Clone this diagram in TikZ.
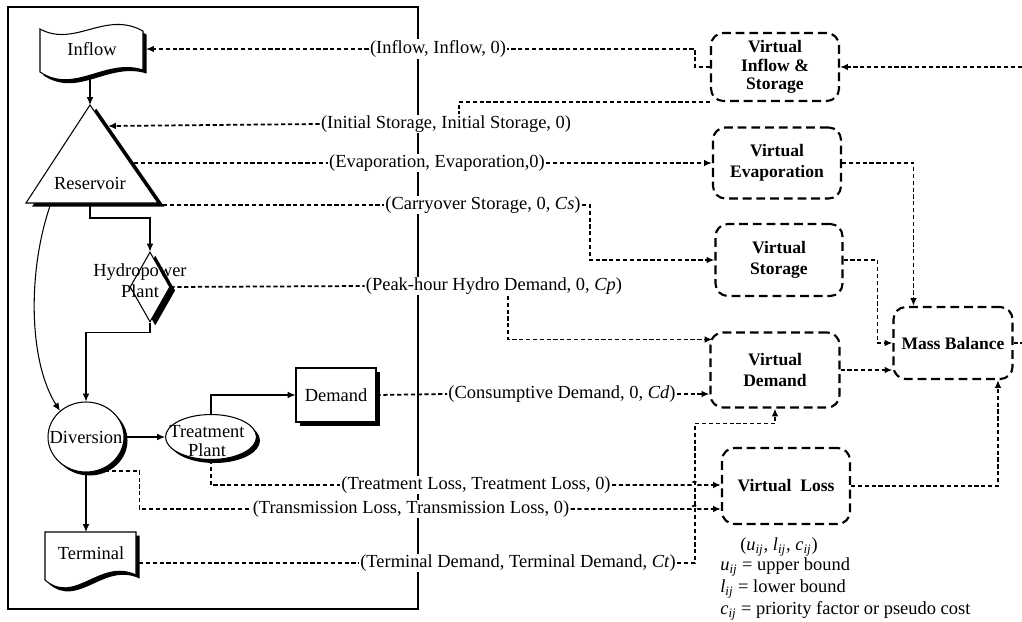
\documentclass[tikz,border=0pt]{standalone}
\usepackage{fontspec}
\setmainfont{Liberation Serif}
\usetikzlibrary{arrows.meta,calc,positioning,shapes.geometric,shadows}
\newcommand{\idx}[1]{\textit{#1}\textsubscript{\textit{ij}}}
\tikzset{>={Latex[length=4.5pt,width=3.8pt]},
  every node/.style={font=\fontsize{10.5}{12}\selectfont},
  outline/.style={draw,line width=1.4pt},
  blk/.style={draw,line width=.6pt,fill=white,
    drop shadow={shadow xshift=#1,shadow yshift=-2pt,fill=black,opacity=1}},
  blk/.default=2pt,
  wire/.style={draw,line width=.6pt,->},
  dwire/.style={draw,line width=1pt,dash pattern=on 2.4pt off 1.5pt},
  vbox/.style={draw,line width=1.2pt,dash pattern=on 5pt off 2.8pt,rounded corners=7pt,
    align=center,inner sep=0pt,font=\fontsize{10}{12}\selectfont\bfseries},
  tag/.style={fill=white,inner sep=.6pt}}

\begin{document}
\begin{tikzpicture}[x=.02cm,y=-.02cm]
\path[use as bounding box,fill=white] (0,0) rectangle (1022,622);
\draw[outline] (8,7) rectangle (418,609);
% river basin side
\path[blk] (40,29) .. controls (75,48) and (105,10) .. (143,31) -- (143,70)
  .. controls (105,58) and (75,95) .. (40,72) -- cycle;
\node (inflow) at (92,49) {Inflow};
\path[blk=3.5pt] (90,105) -- (158,203) -- (26,203) -- cycle;
\node (res) at (90,183) {Reservoir};
\node[blk=3pt,diamond,minimum width=.8cm,minimum height=1.4cm,inner sep=0pt] (hydro) at (150,287) {};
\node[align=center] (hydroTxt) at (140,281) {Hydropower\\Plant};
\node[blk,ellipse,minimum width=1.52cm,minimum height=1.4cm,inner sep=0pt] (div) at (86,437) {};
\node (divTxt) at (86,437) {Diversion};
\node[blk,ellipse,minimum width=1.82cm,minimum height=.9cm,inner sep=0pt] (treat) at (211,437) {};
\node[align=center] (treatTxt) at (207,441) {Treatment\\[-1pt]Plant};
\node[blk,minimum width=1.6cm,minimum height=1.08cm,inner sep=0pt] (demand) at (336,395) {Demand};
\path[blk] (45,532) -- (136,532) -- (136,575) .. controls (100,558) and (75,606) .. (45,580) -- cycle;
\node (term) at (91,553) {Terminal};
\coordinate (inflowS) at (90,76); \coordinate (inflowE) at (146,49);
\coordinate (resTop) at (90,105); \coordinate (resInit) at (108,126);
\coordinate (resEvap) at (134,163); \coordinate (resCarry) at (163,205);
\coordinate (resBot) at (90,203); \coordinate (resLeft) at (50,206);
\coordinate (termTop) at (86,532); \coordinate (termE) at (139,563);
\draw[wire] (inflowS) -- (resTop);
\draw[wire] (resBot) -- ++(0,15) -| (hydro.north);
\draw[wire] (hydro.south) -- ++(0,10) -| (div.north);
\draw[wire] (resLeft) .. controls (28,270) and (28,360) .. (div.135);
\draw[wire] (div.east) -- (treat.west);
\draw[wire] (treat.north) |- (demand.west);
\draw[wire] (div.south) -- (termTop);
% network side
\node[vbox,minimum width=2.56cm,minimum height=1.36cm] (vis) at (775,67) {Virtual\\[-1.5pt]Inflow \&\\[-1.5pt]Storage};
\node[vbox,minimum width=2.56cm,minimum height=1.42cm] (vevap) at (777,163) {Virtual\\Evaporation};
\node[vbox,minimum width=2.54cm,minimum height=1.44cm] (vstor) at (779,260) {Virtual\\Storage};
\node[vbox,minimum width=2.58cm,minimum height=1.5cm] (vdem) at (775,370) {Virtual\\Demand};
\node[vbox,minimum width=2.38cm,minimum height=1.44cm] (mass) at (953,343) {Mass Balance};
\node[vbox,minimum width=2.56cm,minimum height=1.52cm] (vloss) at (786,486) {Virtual~~Loss};
\coordinate (loopOut) at (1022,343); \coordinate (loopIn) at (1022,67);
% arc labels
\node[tag] (lInflow) at (438,49) {(Inflow, Inflow, 0)};
\node[tag] (lInit) at (446,124) {(Initial Storage, Initial Storage, 0)};
\node[tag] (lEvap) at (437,163) {(Evaporation, Evaporation,0)};
\node[tag] (lCarry) at (483,205) {(Carryover Storage, 0, \textit{Cs})};
\node[tag] (lPeak) at (494,286) {(Peak-hour Hydro Demand, 0, \textit{Cp})};
\node[tag] (lCons) at (562,394) {(Consumptive Demand, 0, \textit{Cd})};
\node[tag] (lTreat) at (476,485) {(Treatment Loss, Treatment Loss, 0)};
\node[tag] (lTrans) at (411,509) {(Transmission Loss, Transmission Loss, 0)};
\node[tag] (lTerm) at (518,563) {(Terminal Demand, Terminal Demand, \textit{Ct})};
\draw[dwire] (vis.west) -- ++(-15,0) |- (lInflow.east);
\draw[dwire,->] (lInflow.west) -- (inflowE);
\draw[dwire] (vis.south west) -| ($(lInit.north)+(13,0)$);
\draw[dwire,->] (lInit.west) -- (resInit);
\draw[dwire] (resEvap) -- (lEvap.west);
\draw[dwire,->] (lEvap.east) -- (vevap.west);
\draw[dwire] (resCarry) -- (lCarry.west);
\draw[dwire,->] (lCarry.east) -- ++(8,0) |- (vstor.west);
\draw[dwire] (hydro.east) -- (lPeak.west);
\draw[dwire,->] ($(lPeak.south)+(14,0)$) |- ($(vdem.north west)+(3,8)$);
\draw[dwire] (demand.east) -- (lCons.west);
\draw[dwire,->] (lCons.east) -- (vdem.west |- lCons.east);
\draw[dwire] (treat.south) |- (lTreat.west);
\draw[dwire,->] (lTreat.east) -- (691,485) arc[start angle=180,end angle=0,radius=2pt] -- (vloss.west |- lTreat.east);
\draw[dwire] (div.-70) -| ($(lTrans.west)+(-112,0)$) -- (lTrans.west);
\draw[dwire,->] (lTrans.east) -- (691,509) arc[start angle=180,end angle=0,radius=2pt] -- (vloss.west |- lTrans.east);
\draw[dwire] (termE) -- (lTerm.west);
\draw[dwire,->] (lTerm.east) -| ($(vdem.south)+(-80,15)$) -| (vdem.south);
\draw[dwire,->] (vevap.east) -| ($(mass.north west)+(21,0)$);
\draw[dwire,->] (vstor.east) -- ++(34,0) |- (mass.west);
\draw[dwire,->] (vdem.east) -- (mass.west |- vdem.east);
\draw[dwire,->] (vloss.east) -| ($(mass.south)+(45,0)$);
\draw[dwire] (mass.east) -- (loopOut);
\draw[dwire,->] (loopIn) -- (vis.east);
% legend
\node (legT) at (779,547) {(\idx{u}, \idx{l}, \idx{c})};
\node[anchor=west,inner xsep=0pt] (legU) at (720,567) {\idx{u} = upper bound};
\node[anchor=west,inner xsep=0pt] (legL) at (720,589) {\idx{l} = lower bound};
\node[anchor=west,inner xsep=0pt] (legC) at (720,611) {\idx{c} = priority factor or pseudo cost};
\end{tikzpicture}
\end{document}
